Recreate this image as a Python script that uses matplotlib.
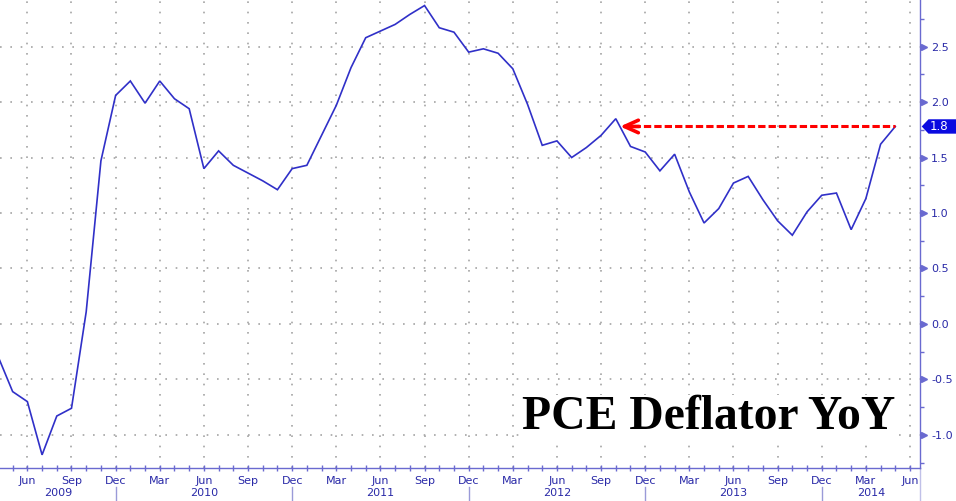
import matplotlib
matplotlib.use('Agg')
import matplotlib.pyplot as plt
import matplotlib.transforms as mtrans
from matplotlib.patches import Polygon
import numpy as np

# ---------------- data ----------------
start_year, start_month = 2009, 4   # first observation: Apr 2009
values = [-0.29, -0.61, -0.70, -1.18, -0.83, -0.76, 0.11, 1.47, 2.06,          # Apr-Dec 2009
          2.19, 1.99, 2.19, 2.03, 1.94, 1.40, 1.56, 1.43, 1.36, 1.29, 1.21, 1.40,  # 2010
          1.43, 1.70, 1.97, 2.31, 2.58, 2.64, 2.70, 2.79, 2.87, 2.67, 2.63, 2.45,  # 2011
          2.48, 2.44, 2.30, 1.98, 1.61, 1.65, 1.50, 1.59, 1.70, 1.85, 1.60, 1.55,  # 2012
          1.38, 1.53, 1.19, 0.91, 1.04, 1.27, 1.33, 1.12, 0.93, 0.80, 1.01, 1.16,  # 2013
          1.18, 0.85, 1.13, 1.62, 1.78]                                            # Jan-May 2014
quarter_labels = ['Jun', 'Sep', 'Dec', 'Mar']
year_labels = ['2009', '2010', '2011', '2012', '2013', '2014']
y_ticks = [-1.0, -0.5, 0.0, 0.5, 1.0, 1.5, 2.0, 2.5]
title = 'PCE Deflator YoY'
last_label = '1.8'

# month index: months since Jun 2009
x0 = (start_year - 2009) * 12 + (start_month - 6)
xs = np.arange(x0, x0 + len(values))

LINE = '#3030c8'
TXT = '#2a2aa8'
AX = '#6a6ad0'
GRID = '#a4a4a4'

W, H = 956, 501
fig = plt.figure(figsize=(W / 100, H / 100), dpi=100)
fig.patch.set_facecolor('white')
ax_bottom_px = 467.5
ax_right_px = 920
ax = fig.add_axes([0, (H - ax_bottom_px) / H, ax_right_px / W, ax_bottom_px / H])
ax.set_facecolor('white')

ax.set_xlim(-1.86, 60.68)
ax.set_ylim(-1.294, 2.92)

# grid
qpos = np.arange(0, 61, 3)
for v in y_ticks:
    ax.axhline(v, color=GRID, lw=1.2, ls=(0, (1, 5.2)), zorder=0)
for q in qpos:
    ax.axvline(q, color=GRID, lw=1.2, ls=(0, (1, 5.2)), zorder=0)

# series
ax.plot(xs, values, color=LINE, lw=1.2, zorder=3, solid_joinstyle='miter')

# spines
for s in ['top', 'left']:
    ax.spines[s].set_visible(False)
for s in ['bottom', 'right']:
    ax.spines[s].set_color(AX)
    ax.spines[s].set_linewidth(1.0)

# y axis on the right
ax.yaxis.tick_right()
ax.set_yticks(y_ticks)
ax.set_yticklabels([('%.1f' % v).replace('\u2212', '-') for v in y_ticks])
ax.set_yticks(np.arange(-1.25, 2.9, 0.25), minor=True)
ax.tick_params(axis='y', which='major', length=0, pad=8, labelsize=8, labelcolor=TXT)
ax.tick_params(axis='y', which='minor', length=3, width=1, color=AX, direction='out')
tri_tr = mtrans.blended_transform_factory(ax.transAxes, ax.transData) + \
    mtrans.ScaledTranslation(3.5 / 100, 0, fig.dpi_scale_trans)
ax.plot([1.0] * len(y_ticks), y_ticks, ls='none', marker='>', ms=4.5, color=AX,
        mec=AX, transform=tri_tr, clip_on=False)

# x axis
ax.set_xticks(qpos)
ax.set_xticklabels([quarter_labels[i % 4] for i in range(len(qpos))])
ax.set_xticks(np.arange(-1, 61, 1), minor=True)
ax.tick_params(axis='x', which='both', direction='inout', length=4, width=1, color=AX)
ax.tick_params(axis='x', which='major', pad=4, labelsize=8, labelcolor=TXT)

# year separators and labels
sep = [6, 18, 30, 42, 54]
btr = mtrans.blended_transform_factory(ax.transData, fig.transFigure)
for s in sep:
    ax.plot([s, s], [0, (H - 487) / H], color='#9a9ad8', lw=1, transform=btr, clip_on=False)
bounds = [ax.get_xlim()[0]] + sep + [ax.get_xlim()[1]]
for i, lab in enumerate(year_labels):
    c = (bounds[i] + bounds[i + 1]) / 2
    ax.text(c, (H - 493.5) / H, lab, transform=btr, ha='center', va='center',
            fontsize=8, color=TXT)
# right line continuing to bottom
rtr = mtrans.blended_transform_factory(ax.transAxes, fig.transFigure)
ax.plot([1, 1], [0, (H - ax_bottom_px) / H], color='#c0c0e8', lw=1, transform=rtr, clip_on=False)

# red dashed arrow
last = values[-1]
tip = 40.29
ax.plot([tip + 0.9, xs[-1]], [last, last], color='red', lw=2.2, ls=(0, (2.4, 1.0)), zorder=4)
ax.annotate('', xy=(tip, last), xytext=(tip + 1.3, last),
            arrowprops=dict(arrowstyle='->,head_length=1.0,head_width=0.45', color='red',
                            lw=2.6, shrinkA=0, shrinkB=0, mutation_scale=10), zorder=5)

# title
fig.text(895 / W, (H - 429) / H, title, ha='right', va='baseline',
         fontsize=34.3, fontweight='bold', family='Liberation Serif', color='black',
         bbox=dict(facecolor='white', edgecolor='none', pad=0), zorder=6)

# last value tag
fig.canvas.draw()
yc = ax.transData.transform((0, last))[1]
hh = 7.2
poly = Polygon([(921.7, yc), (928.5, yc + hh), (W, yc + hh), (W, yc - hh), (928.5, yc - hh)],
               closed=True, facecolor='#0a0ae0', edgecolor='none',
               transform=mtrans.IdentityTransform())
fig.add_artist(poly)
fig.text(929.5, yc, last_label, transform=mtrans.IdentityTransform(), ha='left', va='center',
         fontsize=8.5, color='white')

fig.savefig('out.png', dpi=100)
